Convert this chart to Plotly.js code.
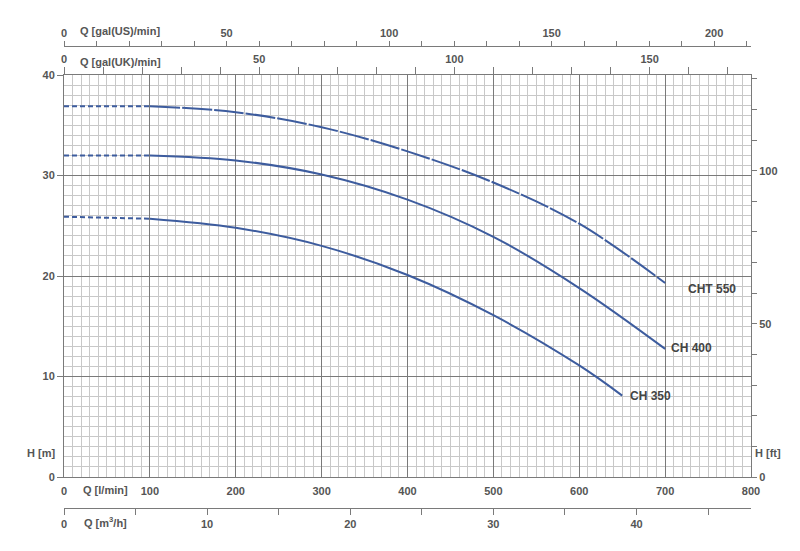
<!DOCTYPE html>
<html>
<head>
<meta charset="utf-8">
<script src="https://cdn.plot.ly/plotly-3.0.1.min.js"></script>
<style>
  html, body { margin: 0; padding: 0; background: #fff; }
  #chart { width: 800px; height: 551px; }
</style>
</head>
<body>
<div id="chart"></div>
<script>
// pump curves H(Q)
var flowCHT550 = [0, 100, 200, 300, 400, 500, 600, 700];
var headCHT550 = [36.9, 36.9, 36.3, 34.8, 32.4, 29.3, 25.2, 19.3];

var flowCH400 = [0, 100, 200, 300, 400, 500, 600, 700];
var headCH400 = [32.0, 32.0, 31.5, 30.1, 27.6, 23.9, 18.8, 12.75];

var flowCH350 = [0, 100, 200, 300, 400, 500, 600, 650];
var headCH350 = [25.9, 25.7, 24.8, 23.0, 20.1, 16.1, 11.1, 8.1];

var pumpNames = ['CHT 550', 'CH 400', 'CH 350'];

// secondary scales
var usTicks = [0, 10, 20, 30, 40, 50, 60, 70, 80, 90, 100, 110, 120, 130, 140, 150, 160, 170, 180, 190, 200, 210];
var usLabels = ['0', '50', '100', '150', '200'];
var ukTicks = [0, 10, 20, 30, 40, 50, 60, 70, 80, 90, 100, 110, 120, 130, 140, 150, 160, 170];
var ukLabels = ['0', '50', '100', '150'];
var m3hTicks = [0, 5, 10, 15, 20, 25, 30, 35, 40, 45];
var m3hLabels = ['0', '10', '20', '30', '40'];
var ftTicks = [0, 10, 20, 30, 40, 50, 60, 70, 80, 90, 100, 110, 120, 130];
var ftLabels = ['0', '50', '100'];

// unit conversions (per l/min, per m)
var L_PER_USGAL = 3.78541;
var L_PER_UKGAL = 4.54609;
var LMIN_PER_M3H = 1000 / 60;
var M_PER_FT = 0.3048;

var QMAX = 800, HMAX = 40;

function labelled(ticks, labels) {
  return ticks.map(function (t) { return labels.indexOf(String(t)) >= 0 ? String(t) : ''; });
}

// pixel -> paper helpers (plot frame 64..751 x, 46..508 y)
var L = 64, R = 751, T = 46, B = 508;
function px(x) { return (x - L) / (R - L); }
function py(y) { return (B - y) / (B - T); }

var blue = '#3d5c9e';
var txt = '#555';
var fnt = { family: 'Liberation Sans, Arial, sans-serif', size: 11, color: txt, weight: 'bold' };
var nameFont = { family: fnt.family, size: 12, color: '#444', weight: 'bold' };

function curve(flow, head, dashed) {
  var x = dashed ? flow.slice(0, 2) : flow.slice(1);
  var y = dashed ? head.slice(0, 2) : head.slice(1);
  return {
    x: x, y: y, type: 'scatter', mode: 'lines',
    line: { color: blue, width: 2, shape: 'spline', smoothing: 1, dash: dashed ? '5px,3px' : 'solid' },
    hoverinfo: 'skip', showlegend: false
  };
}

// empty traces so the extra unit axes get drawn
function axisHolder(xa, ya) {
  return { x: [], y: [], type: 'scatter', mode: 'lines', xaxis: xa, yaxis: ya, hoverinfo: 'skip', showlegend: false };
}

var cht = curve(flowCHT550, headCHT550, false);
cht.line.dash = '30px,2px';

var data = [
  curve(flowCHT550, headCHT550, true), cht,
  curve(flowCH400, headCH400, true), curve(flowCH400, headCH400, false),
  curve(flowCH350, headCH350, true), curve(flowCH350, headCH350, false),
  axisHolder('x', 'y2'), axisHolder('x2', 'y'), axisHolder('x3', 'y'), axisHolder('x4', 'y')
];

var axisGray = '#7a7a7a';
var minorGray = '#c8c8c8';

function unitAxis(extra) {
  var a = {
    showgrid: false, zeroline: false, tickmode: 'array',
    showline: true, linecolor: axisGray, linewidth: 1,
    ticks: 'outside', tickcolor: axisGray, tickfont: fnt, fixedrange: true
  };
  for (var k in extra) a[k] = extra[k];
  return a;
}

var layout = {
  width: 800, height: 551,
  margin: { l: L, r: 800 - R, t: T, b: 551 - B, pad: 0 },
  paper_bgcolor: '#fff', plot_bgcolor: '#fff',
  font: fnt,
  showlegend: false,
  xaxis: {
    range: [0, QMAX], domain: [0, 1], anchor: 'y',
    tick0: 0, dtick: 100,
    showgrid: true, gridcolor: axisGray, gridwidth: 1,
    minor: { dtick: 10, showgrid: true, gridcolor: minorGray, gridwidth: 1, ticks: '' },
    showline: true, linecolor: axisGray, linewidth: 1,
    ticks: 'outside', ticklen: 4, tickcolor: 'rgba(0,0,0,0)',
    tickfont: fnt, zeroline: false, fixedrange: true
  },
  yaxis: {
    range: [0, HMAX], domain: [py(477), py(75)], anchor: 'x',
    tick0: 0, dtick: 10,
    showgrid: true, gridcolor: axisGray, gridwidth: 1,
    minor: { dtick: 1, showgrid: true, gridcolor: minorGray, gridwidth: 1, ticks: '' },
    showline: true, linecolor: axisGray, linewidth: 1,
    ticks: 'outside', ticklen: 6, tickcolor: axisGray,
    tickfont: fnt, zeroline: false, fixedrange: true
  },
  yaxis2: unitAxis({
    overlaying: 'y', side: 'right', anchor: 'x',
    range: [0, HMAX / M_PER_FT],
    tickvals: ftTicks, ticktext: labelled(ftTicks, ftLabels), ticklen: 5
  }),
  xaxis2: unitAxis({
    overlaying: 'x', side: 'top', anchor: 'y',
    range: [0, QMAX / L_PER_UKGAL],
    tickvals: ukTicks, ticktext: labelled(ukTicks, ukLabels), ticklen: 7
  }),
  xaxis3: unitAxis({
    overlaying: 'x', side: 'top', anchor: 'free', position: 1,
    range: [0, QMAX / L_PER_USGAL],
    tickvals: usTicks, ticktext: labelled(usTicks, usLabels), ticklen: 5
  }),
  xaxis4: unitAxis({
    overlaying: 'x', side: 'bottom', anchor: 'free', position: 0,
    range: [0, QMAX / LMIN_PER_M3H],
    tickvals: m3hTicks, ticktext: labelled(m3hTicks, m3hLabels), ticklen: 6
  }),
  annotations: [
    { text: 'Q [gal(US)/min]', xref: 'paper', yref: 'paper', x: px(78), y: py(31), xanchor: 'left', yanchor: 'middle', showarrow: false, font: fnt },
    { text: 'Q [gal(UK)/min]', xref: 'paper', yref: 'paper', x: px(78), y: py(62), xanchor: 'left', yanchor: 'middle', showarrow: false, font: fnt },
    { text: 'Q [l/min]', xref: 'paper', yref: 'paper', x: px(105), y: py(490), xanchor: 'center', yanchor: 'middle', showarrow: false, font: fnt },
    { text: 'Q [m<sup>3</sup>/h]', xref: 'paper', yref: 'paper', x: px(105), y: py(522), xanchor: 'center', yanchor: 'middle', showarrow: false, font: fnt },
    { text: 'H [m]', xref: 'paper', yref: 'paper', x: px(41), y: py(453), xanchor: 'center', yanchor: 'middle', showarrow: false, font: fnt },
    { text: 'H [ft]', xref: 'paper', yref: 'paper', x: px(768), y: py(453), xanchor: 'center', yanchor: 'middle', showarrow: false, font: fnt },
    { text: pumpNames[0], xref: 'x', yref: 'y', x: 754, y: 18.7, xanchor: 'center', yanchor: 'middle', showarrow: false, font: nameFont },
    { text: pumpNames[1], xref: 'x', yref: 'y', x: 731, y: 12.8, xanchor: 'center', yanchor: 'middle', showarrow: false, font: nameFont },
    { text: pumpNames[2], xref: 'x', yref: 'y', x: 683, y: 8.1, xanchor: 'center', yanchor: 'middle', showarrow: false, font: nameFont }
  ]
};

Plotly.newPlot('chart', data, layout, { displayModeBar: false, staticPlot: true });
</script>
</body>
</html>
